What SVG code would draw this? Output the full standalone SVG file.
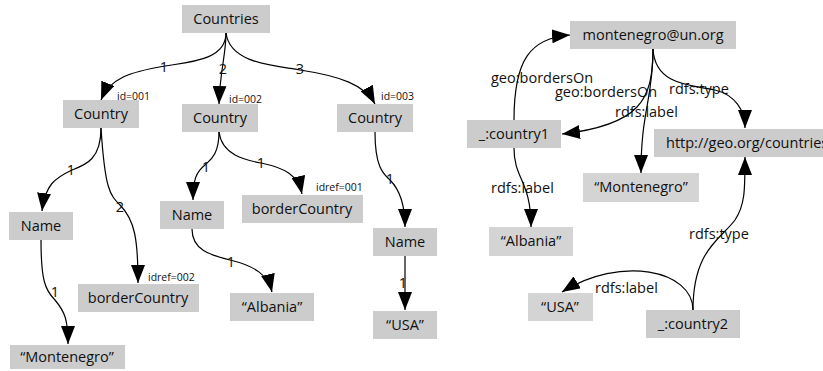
<svg xmlns="http://www.w3.org/2000/svg" width="823" height="371" viewBox="0 0 823 371">
<defs>
<marker id="ah" markerUnits="userSpaceOnUse" markerWidth="18" markerHeight="14" viewBox="0 0 18 14" refX="18" refY="7" orient="auto">
<path d="M0,0 L18,7 L0,14 Z" fill="#000"/>
</marker>
<style>
.n{fill:#cccccc}
.l{fill:#d4d4d4}
text{font-family:"Open Sans","DejaVu Sans",sans-serif;fill:#111}
.t{font-size:14.5px;text-anchor:middle}
.e{font-size:14.5px}
.c{font-size:14.5px;text-anchor:middle}
.s{font-size:10.5px}
.edges path{fill:none;stroke:#000;stroke-width:1.2;marker-end:url(#ah)}
</style>
</defs>
<g class="edges">
<path d="M226,33 C226,60 190,62 165,66 C130,72 110,78 101,100"/>
<path d="M226,33 C226,55 220,70 219,104"/>
<path d="M226,33 C230,65 280,66 300,70 C340,76 365,85 375,104"/>
<path d="M101,128 C101,160 85,165 72,170 C55,178 45,185 42,211"/>
<path d="M101,128 C105,190 110,195 120,205 C135,220 138,240 138,283"/>
<path d="M41,240 C41,280 45,290 55,300 C65,312 68,320 68,344"/>
<path d="M219,132 C219,155 210,160 205,165 C196,172 193,180 193,200"/>
<path d="M219,132 C222,155 245,160 261,163 C285,168 298,175 302,194"/>
<path d="M192,229 C192,250 210,255 230,260 C255,266 268,275 272,292"/>
<path d="M375,132 C375,170 385,175 390,180 C400,190 405,205 405,227"/>
<path d="M405,256 L405,310"/>
<path d="M514,120 C514,60 530,38 570,35"/>
<path d="M653,49 C653,100 640,125 562,134"/>
<path d="M653,49 C653,100 641,110 641,173"/>
<path d="M653,49 C655,85 690,85 715,90 C735,95 745,110 745,128"/>
<path d="M514,148 C514,180 531,180 531,227"/>
<path d="M693,310 C693,250 720,240 735,220 C745,205 745,190 745,157"/>
<path d="M693,310 C693,270 620,255 562,292"/>
</g>
<g id="edge-labels">
<text class="c" x="164" y="72">1</text>
<text class="c" x="223" y="74">2</text>
<text class="c" x="300" y="74">3</text>
<text class="c" x="71" y="175">1</text>
<text class="c" x="120" y="212">2</text>
<text class="c" x="55" y="297">1</text>
<text class="c" x="206" y="172">1</text>
<text class="c" x="261" y="168">1</text>
<text class="c" x="231" y="267">1</text>
<text class="c" x="390" y="184">1</text>
<text class="c" x="403" y="288">1</text>
<text class="s" x="117" y="100">id=001</text>
<text class="s" x="229" y="103">id=002</text>
<text class="s" x="381" y="100">id=003</text>
<text class="s" x="316" y="191">idref=001</text>
<text class="s" x="148" y="281">idref=002</text>
<text class="e" x="491" y="83">geo:bordersOn</text>
<text class="e" x="555" y="97">geo:bordersOn</text>
<text class="e" x="615" y="117">rdfs:label</text>
<text class="e" x="669" y="94">rdfs:type</text>
<text class="e" x="491" y="193">rdfs:label</text>
<text class="e" x="689" y="239">rdfs:type</text>
<text class="e" x="595" y="293">rdfs:label</text>
</g>
<g id="countries"><rect class="n" x="182" y="5" width="88" height="28"/><text class="t" x="226" y="24">Countries</text></g>
<g id="country1"><rect class="n" x="63" y="100" width="76" height="28"/><text class="t" x="101" y="119">Country</text></g>
<g id="country2"><rect class="n" x="182" y="104" width="76" height="28"/><text class="t" x="220" y="123">Country</text></g>
<g id="country3"><rect class="n" x="337" y="104" width="76" height="28"/><text class="t" x="375" y="123">Country</text></g>
<g id="name1"><rect class="n" x="9" y="212" width="64" height="28"/><text class="t" x="41" y="231">Name</text></g>
<g id="border1"><rect class="n" x="78" y="284" width="121" height="28"/><text class="t" x="138" y="303">borderCountry</text></g>
<g id="montenegro1"><rect class="n" x="10" y="345" width="115" height="24"/><text class="t" x="67" y="362">“Montenegro”</text></g>
<g id="name2"><rect class="n" x="160" y="201" width="64" height="28"/><text class="t" x="192" y="220">Name</text></g>
<g id="border2"><rect class="n" x="242" y="195" width="121" height="28"/><text class="t" x="302" y="214">borderCountry</text></g>
<g id="albania1"><rect class="n" x="230" y="293" width="84" height="28"/><text class="t" x="272" y="312">“Albania”</text></g>
<g id="name3"><rect class="n" x="373" y="228" width="64" height="28"/><text class="t" x="405" y="247">Name</text></g>
<g id="usa1"><rect class="n" x="373" y="311" width="64" height="28"/><text class="t" x="405" y="330">“USA”</text></g>
<g id="montenegro-un"><rect class="n" x="570" y="21" width="166" height="28"/><text class="t" x="653" y="40">montenegro@un.org</text></g>
<g id="country1-blank"><rect class="n" x="467" y="120" width="94" height="28"/><text class="t" x="514" y="139">_:country1</text></g>
<g id="geo-countries"><rect class="n" x="654" y="129" width="170" height="28"/><text class="e" x="666" y="148">http://geo.org/countries</text></g>
<g id="montenegro2"><rect class="l" x="583" y="173" width="116" height="29"/><text class="t" x="641" y="192">“Montenegro”</text></g>
<g id="albania2"><rect class="l" x="489" y="227" width="84" height="29"/><text class="t" x="531" y="246">“Albania”</text></g>
<g id="usa2"><rect class="l" x="528" y="293" width="65" height="28"/><text class="t" x="560" y="312">“USA”</text></g>
<g id="country2-blank"><rect class="n" x="646" y="310" width="94" height="28"/><text class="t" x="693" y="329">_:country2</text></g>
</svg>
